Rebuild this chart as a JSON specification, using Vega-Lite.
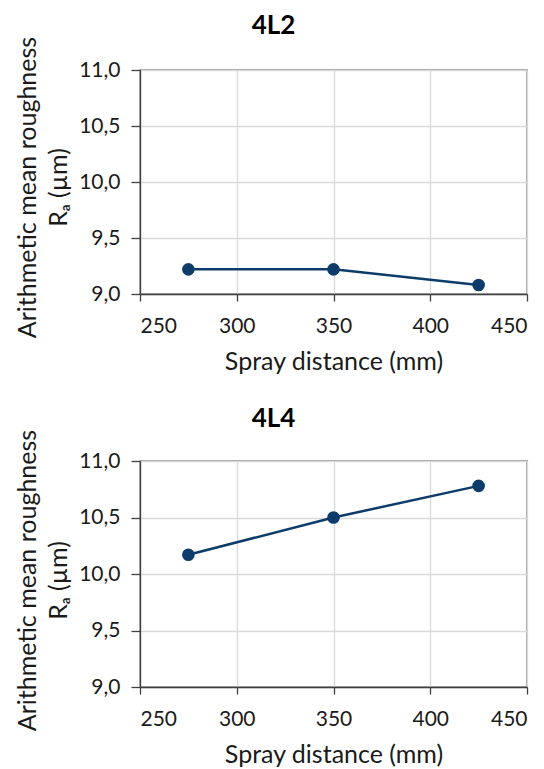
{
  "$schema": "https://vega.github.io/schema/vega-lite/v6.json",
  "padding": {"left": 15, "top": 12, "right": 0, "bottom": 0},
  "background": "white",
  "config": {
    "font": "Lato",
    "view": {"stroke": "#404040", "strokeWidth": 1.3},
    "axis": {
      "domainColor": "#404040",
      "domainWidth": 1.3,
      "tickColor": "#404040",
      "tickWidth": 1.3,
      "gridColor": "#d9d9d9",
      "gridWidth": 1.3,
      "labelFontSize": 21,
      "titleFontSize": 25,
      "labelColor": "#1a1a1a",
      "titleColor": "#1a1a1a",
      "titleFontWeight": "normal"
    },
    "axisX": {"tickSize": 7, "labelPadding": 14, "titlePadding": 13},
    "axisY": {"tickSize": 9, "labelPadding": 11, "titlePadding": 7},
    "title": {"fontSize": 26, "fontWeight": "bold", "offset": -3, "color": "#000000"},
    "concat": {"spacing": 30}
  },
  "datasets": {
    "d": [
      {"panel": "4L2", "distance": 275, "ra": 9.22},
      {"panel": "4L2", "distance": 350, "ra": 9.22},
      {"panel": "4L2", "distance": 425, "ra": 9.08},
      {"panel": "4L4", "distance": 275, "ra": 10.17},
      {"panel": "4L4", "distance": 350, "ra": 10.50},
      {"panel": "4L4", "distance": 425, "ra": 10.78}
    ]
  },
  "vconcat": [
    {
      "title": {"text": "4L2", "dx": -60},
      "width": 387,
      "height": 224,
      "data": {"name": "d"},
      "transform": [{"filter": "datum.panel == '4L2'"}],
      "encoding": {
        "x": {"field": "distance", "type": "quantitative", "scale": {"domain": [250, 450], "nice": false}, "axis": {"values": [250, 300, 350, 400, 450], "title": "Spray distance (mm)"}},
        "y": {"field": "ra", "type": "quantitative", "scale": {"domain": [9, 11], "nice": false, "zero": false}, "axis": {"values": [9, 9.5, 10, 10.5, 11], "labelExpr": "replace(format(datum.value, '.1f'), '.', ',')", "title": ["Arithmetic mean roughness", "Rₐ (µm)"], "titleLineHeight": 31, "titleY": 117}}
      },
      "layer": [
        {"mark": {"type": "line", "color": "#0d3c6a", "strokeWidth": 2.5}},
        {"mark": {"type": "point", "filled": true, "color": "#0d3c6a", "opacity": 1, "size": 160}}
      ]
    },
    {
      "title": {"text": "4L4", "dx": -60},
      "width": 387,
      "height": 226,
      "data": {"name": "d"},
      "transform": [{"filter": "datum.panel == '4L4'"}],
      "encoding": {
        "x": {"field": "distance", "type": "quantitative", "scale": {"domain": [250, 450], "nice": false}, "axis": {"values": [250, 300, 350, 400, 450], "title": "Spray distance (mm)"}},
        "y": {"field": "ra", "type": "quantitative", "scale": {"domain": [9, 11], "nice": false, "zero": false}, "axis": {"values": [9, 9.5, 10, 10.5, 11], "labelExpr": "replace(format(datum.value, '.1f'), '.', ',')", "title": ["Arithmetic mean roughness", "Rₐ (µm)"], "titleLineHeight": 31, "titleY": 119}}
      },
      "layer": [
        {"mark": {"type": "line", "color": "#0d3c6a", "strokeWidth": 2.5}},
        {"mark": {"type": "point", "filled": true, "color": "#0d3c6a", "opacity": 1, "size": 160}}
      ]
    }
  ]
}
